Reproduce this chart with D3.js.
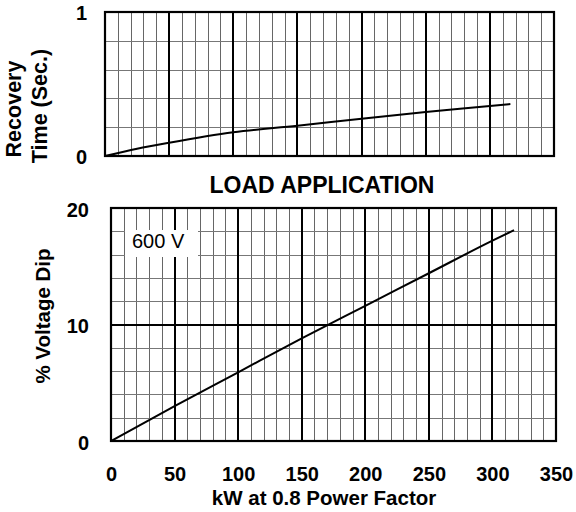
<!DOCTYPE html>
<html><head><meta charset="utf-8">
<script src="https://cdn.jsdelivr.net/npm/d3@7"></script>
<style>
body{margin:0;background:#fff}
svg{display:block}
text{font-family:"Liberation Sans",Arial,sans-serif}
</style>
</head><body><svg id="c" width="576" height="512"></svg>
<script>
// ---- data ----
const xTicks = [0, 50, 100, 150, 200, 250, 300, 350];
const recoveryKW = [0, 25, 50, 100, 150, 200, 250, 300, 316];
const recoveryTime = [0, 0.05, 0.092, 0.165, 0.21, 0.259, 0.305, 0.347, 0.361];
const dipKW = [0, 50, 100, 150, 200, 250, 300, 317];
const dipPct = [0, 3.0, 5.9, 8.8, 11.6, 14.4, 17.2, 18.1];
const topYTicks = [0, 1];
const botYTicks = [0, 10, 20];
const voltageLabel = "600 V";
const titleMid = "LOAD APPLICATION";
const xTitle = "kW at 0.8 Power Factor";
const topYTitle = ["Recovery", "Time (Sec.)"];
const botYTitle = "% Voltage Dip";

const svg = d3.select("#c");

function panel(opt) {
  const x = d3.scaleLinear().domain([0, 350]).range([opt.x0, opt.x1]);
  const y = d3.scaleLinear().domain(opt.yDomain).range([opt.y1, opt.y0]);
  const g = svg.append("g");
  const minorX = d3.range(0, 351, 10).filter(v => v % 50 !== 0);
  g.append("g").selectAll("line").data(minorX).join("line")
    .attr("x1", d => Math.round(x(d)) + 0.5).attr("x2", d => Math.round(x(d)) + 0.5)
    .attr("y1", opt.y0).attr("y2", opt.y1)
    .attr("stroke", "#666").attr("stroke-width", 1);
  const minorY = opt.minorY.filter(v => !opt.majorY.includes(v));
  g.append("g").selectAll("line").data(minorY).join("line")
    .attr("y1", d => Math.round(y(d)) + 0.5).attr("y2", d => Math.round(y(d)) + 0.5)
    .attr("x1", opt.x0).attr("x2", opt.x1)
    .attr("stroke", "#777").attr("stroke-width", 1);
  const majorX = xTicks.filter(v => v > 0 && v < 350);
  g.append("g").selectAll("line").data(majorX).join("line")
    .attr("x1", d => Math.round(x(d))).attr("x2", d => Math.round(x(d)))
    .attr("y1", opt.y0).attr("y2", opt.y1)
    .attr("stroke", "#000").attr("stroke-width", 2);
  g.append("g").selectAll("line").data(opt.majorY).join("line")
    .attr("y1", d => Math.round(y(d))).attr("y2", d => Math.round(y(d)))
    .attr("x1", opt.x0).attr("x2", opt.x1)
    .attr("stroke", "#000").attr("stroke-width", 2);
  g.append("rect").attr("x", opt.x0).attr("y", opt.y0)
    .attr("width", opt.x1 - opt.x0).attr("height", opt.y1 - opt.y0)
    .attr("fill", "none").attr("stroke", "#000").attr("stroke-width", 2.2);
  const ya = d3.axisLeft(y).tickValues(opt.yTicks).tickFormat(d3.format("d")).tickSize(0).tickPadding(0);
  const yg = g.append("g").attr("transform", `translate(${opt.yLabelX},${opt.yLabelDy})`).call(ya);
  yg.select(".domain").remove();
  yg.selectAll("text").attr("font-size", 20).attr("font-weight", "bold")
    .attr("fill", "#000").style("font-family", '"Liberation Sans",Arial,sans-serif');
  return {x, y, g};
}

// ---- top panel ----
const topP = panel({x0: 105, x1: 554, y0: 12, y1: 156, yDomain: [0, 1],
  minorY: d3.range(0, 1.01, 0.2).map(v => +v.toFixed(1)), majorY: [],
  yTicks: topYTicks, yLabelX: 87, yLabelDy: 1});
topP.g.append("path")
  .datum(recoveryKW.map((k, i) => [k, recoveryTime[i]]))
  .attr("d", d3.line().x(d => topP.x(d[0])).y(d => topP.y(d[1])).curve(d3.curveMonotoneX))
  .attr("fill", "none").attr("stroke", "#000").attr("stroke-width", 2);

// ---- bottom panel ----
const botP = panel({x0: 111, x1: 556, y0: 208, y1: 441, yDomain: [0, 20],
  minorY: d3.range(0, 21, 2), majorY: [10],
  yTicks: botYTicks, yLabelX: 89, yLabelDy: 2});
botP.g.append("rect").attr("x", 125).attr("y", 230).attr("width", 73).attr("height", 27).attr("fill", "#fff");
botP.g.append("text").attr("x", 132).attr("y", 248).attr("font-size", 20)
  .attr("fill", "#000").text(voltageLabel);
botP.g.append("path")
  .datum(dipKW.map((k, i) => [k, dipPct[i]]))
  .attr("d", d3.line().x(d => botP.x(d[0])).y(d => botP.y(d[1])).curve(d3.curveMonotoneX))
  .attr("fill", "none").attr("stroke", "#000").attr("stroke-width", 2);

// x axis labels
const xa = d3.axisBottom(botP.x).tickValues(xTicks).tickSize(0).tickPadding(0);
const xg = svg.append("g").attr("transform", "translate(0,467)").call(xa);
xg.select(".domain").remove();
xg.selectAll("text").attr("font-size", 20).attr("font-weight", "bold").attr("dy", "0.71em")
  .attr("fill", "#000").style("font-family", '"Liberation Sans",Arial,sans-serif');

// titles
svg.append("text").attr("x", 322).attr("y", 193).attr("text-anchor", "middle")
  .attr("font-size", 23).attr("font-weight", "bold").text(titleMid);
svg.append("text").attr("x", 324).attr("y", 505).attr("text-anchor", "middle")
  .attr("font-size", 20.5).attr("font-weight", "bold").text(xTitle);
svg.append("text").attr("transform", "translate(21,109) rotate(-90)").attr("text-anchor", "middle")
  .attr("font-size", 21.5).attr("font-weight", "bold").text(topYTitle[0]);
svg.append("text").attr("transform", "translate(47,106) rotate(-90)").attr("text-anchor", "middle")
  .attr("font-size", 21.5).attr("font-weight", "bold").text(topYTitle[1]);
svg.append("text").attr("transform", "translate(50,316) rotate(-90)").attr("text-anchor", "middle")
  .attr("font-size", 20.5).attr("font-weight", "bold").text(botYTitle);
</script>
</body></html>
